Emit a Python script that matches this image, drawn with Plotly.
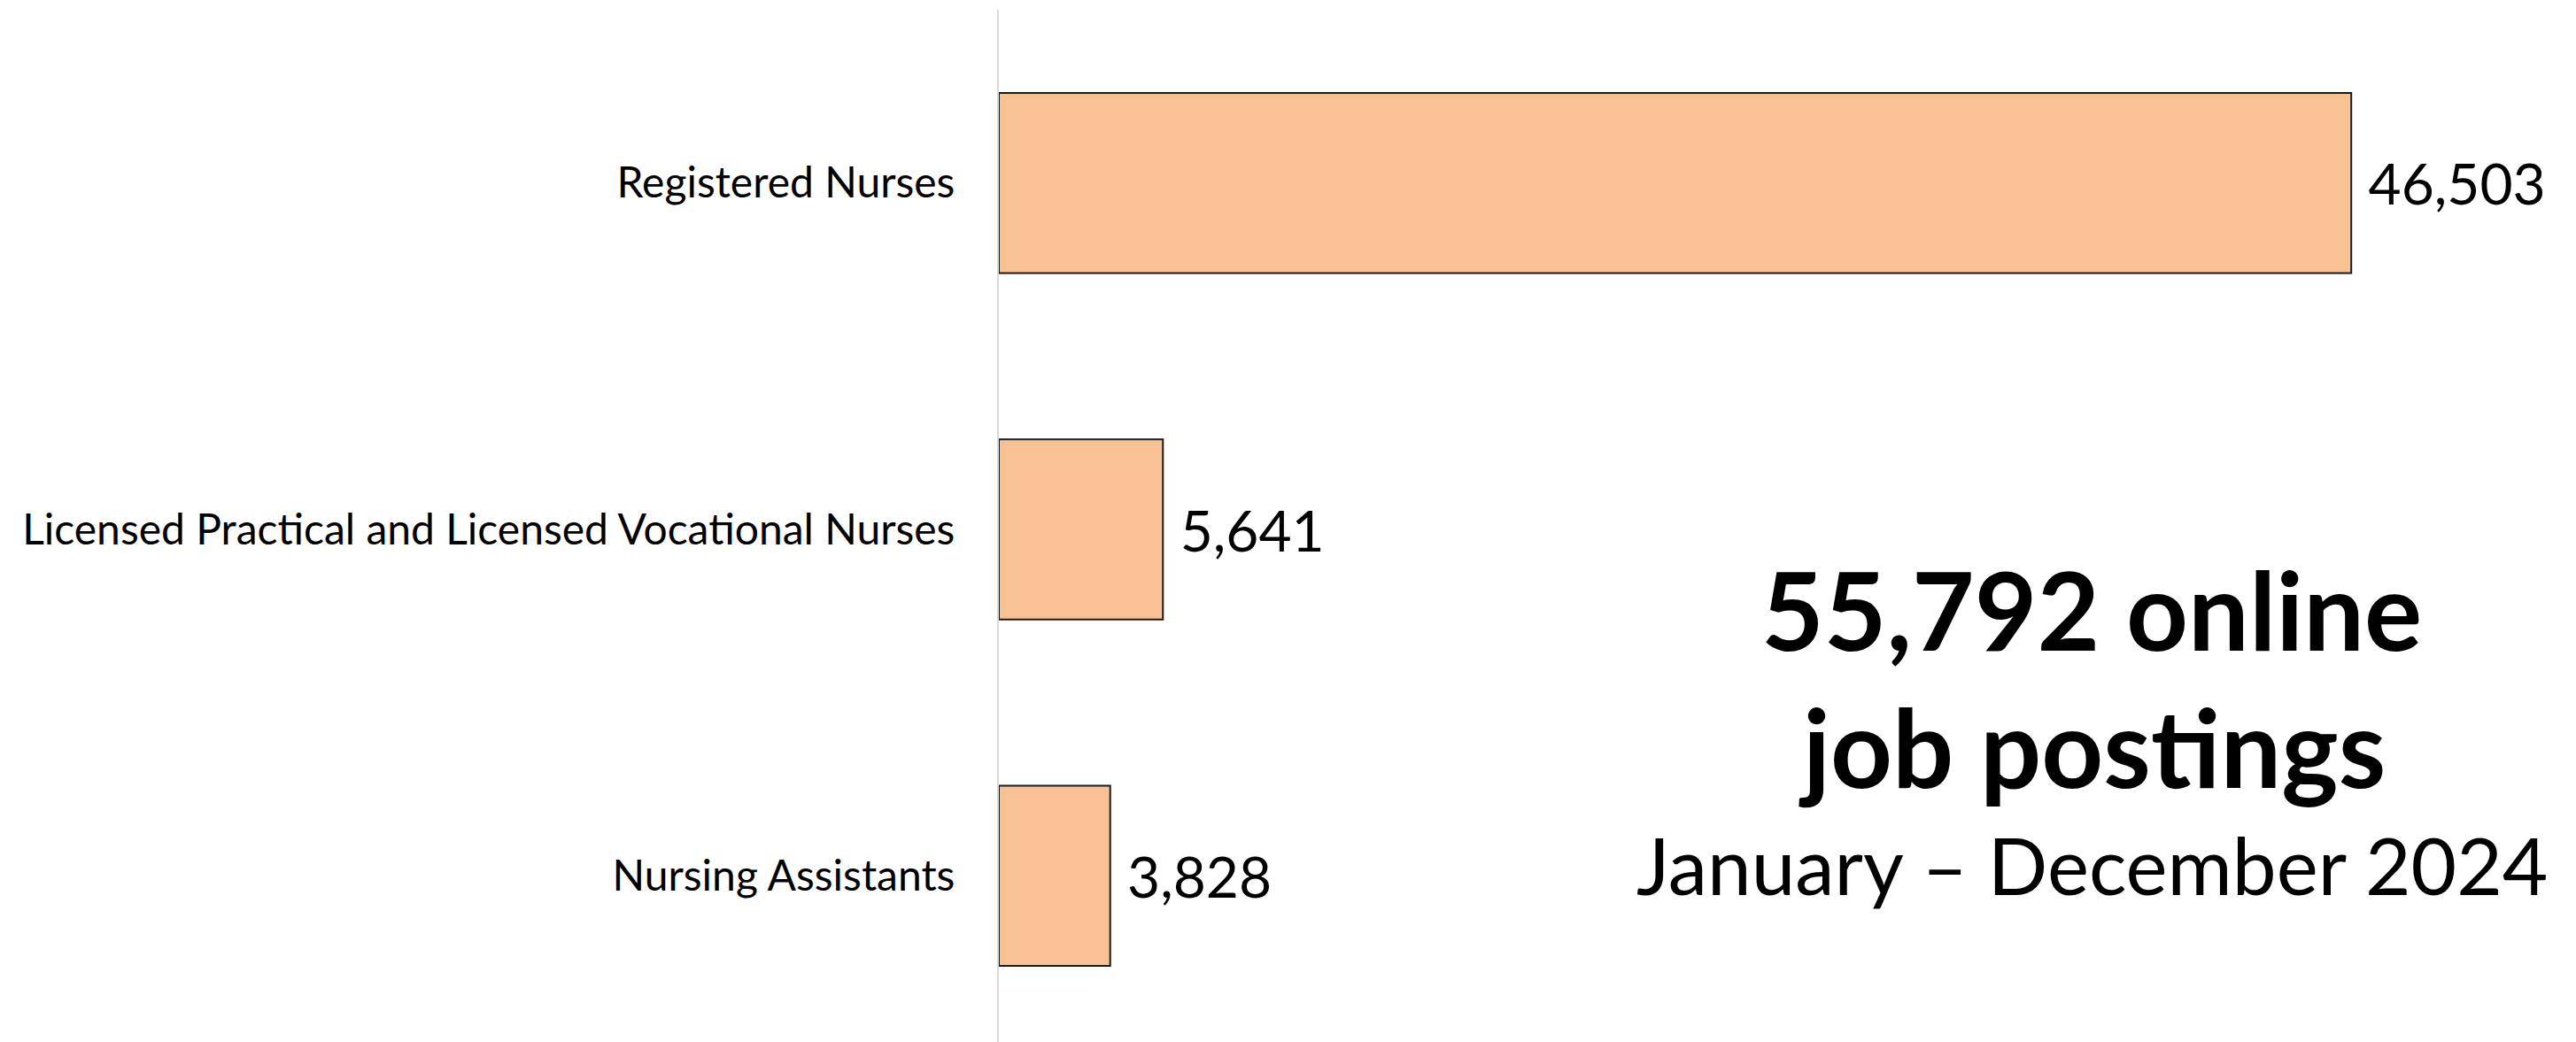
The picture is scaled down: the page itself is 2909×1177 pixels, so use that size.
import plotly.graph_objects as go

occupations = ["Registered Nurses",
               "Licensed Practical and Licensed Vocational Nurses",
               "Nursing Assistants"]
postings = [46503, 5641, 3828]
total_text = ["55,792 online", "job postings"]
period_text = "January \u2013 December 2024"

font = "Lato, 'Noto Sans', sans-serif"

fig = go.Figure()
fig.add_trace(go.Bar(
    y=occupations, x=postings, orientation="h",
    marker=dict(color="#F8C193", line=dict(color="#1a1a1a", width=2)),
    width=0.52,
    texttemplate=" %{x:,}", textposition="outside",
    textfont=dict(size=64, color="black", family=font),
    cliponaxis=False,
))

fig.update_yaxes(autorange="reversed", showline=True, linecolor="#D9D9D9",
                 linewidth=2, showgrid=False, ticks="",
                 tickfont=dict(size=48, color="black", family=font),
                 ticklabelstandoff=38)
fig.update_xaxes(range=[0, 53470], visible=False, showgrid=False)

# headline text, right side
cx = 0.703
fig.add_annotation(x=cx, y=0.423, xref="paper", yref="paper",
                   xanchor="center", yanchor="middle",
                   text="<b>" + total_text[0] + "</b>", showarrow=False,
                   font=dict(size=122, color="black", family=font))
fig.add_annotation(x=cx, y=0.291, xref="paper", yref="paper",
                   xanchor="center", yanchor="middle",
                   text="<b>" + total_text[1] + "</b>", showarrow=False,
                   font=dict(size=122, color="black", family=font))
fig.add_annotation(x=cx, y=0.178, xref="paper", yref="paper",
                   xanchor="center", yanchor="middle",
                   text=period_text, showarrow=False,
                   font=dict(size=89, color="black", family=font))

fig.update_layout(width=2909, height=1177, plot_bgcolor="white",
                  paper_bgcolor="white", showlegend=False,
                  margin=dict(l=1120, r=33, t=3, b=0))
fig.write_html("out.html")
